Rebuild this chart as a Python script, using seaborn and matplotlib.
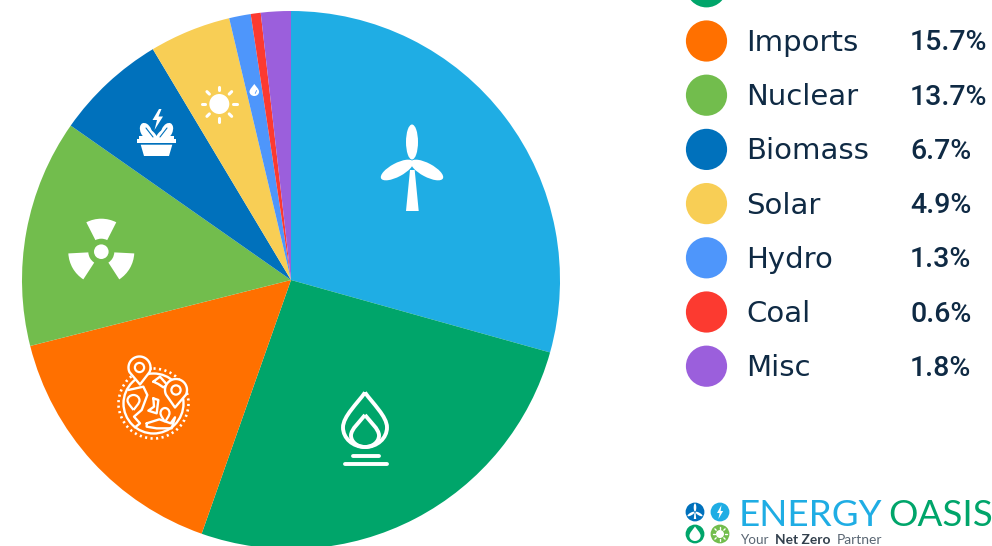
import matplotlib
matplotlib.use('Agg')
import matplotlib.pyplot as plt
from matplotlib.patches import Circle, Ellipse, PathPatch, Polygon, Rectangle, Wedge
from matplotlib.path import Path
import numpy as np
import pandas as pd
import seaborn as sns

sources = ['Wind', 'Gas', 'Imports', 'Nuclear', 'Biomass', 'Solar', 'Hydro', 'Coal', 'Misc']
shares = [29.4, 26.1, 15.7, 13.7, 6.7, 4.9, 1.3, 0.6, 1.8]
colors = ['#1fade4', '#00a56a', '#ff7000', '#72bd4d', '#0071bc',
          '#f8ce55', '#4e96fb', '#fc3a30', '#9b5fdc']

W, H = 992, 546
TEXT = '#0f2a44'
ORANGE = '#ff7000'
BLUE = '#0071bc'

sns.set_theme(style='white')
plt.rcParams['font.family'] = ['Lato', 'DejaVu Sans']

fig = plt.figure(figsize=(W / 100, H / 100), dpi=100, facecolor='white')

# pie, centre (291, 280) and radius 269 in pixels, runs a bit off the bottom
pie_ax = fig.add_axes([22 / W, (H - 549) / H, 538 / W, 538 / H])
pie_ax.pie(shares, colors=colors, startangle=90, counterclock=False,
           radius=1, wedgeprops={'linewidth': 0})
pie_ax.set_xlim(-1, 1)
pie_ax.set_ylim(-1, 1)

# overlay in image pixels for the legend, icons and logo
ov = fig.add_axes([0, 0, 1, 1])
ov.set_xlim(0, W)
ov.set_ylim(H, 0)
ov.axis('off')
ov.patch.set_alpha(0)

# legend rows
row_step = 54.2
row_first = 41 - 2 * row_step
legend = pd.DataFrame({'source': sources, 'share': shares})
legend['y'] = row_first + legend.index * row_step
legend['x'] = 706.5
sns.scatterplot(data=legend, x='x', y='y', hue='source', hue_order=sources,
                palette=colors, s=880, linewidth=0, legend=False, ax=ov)
ov.set_xlim(0, W)
ov.set_ylim(H, 0)
ov.set_xlabel('')
ov.set_ylabel('')
for row in legend.iloc[2:].itertuples():
    ov.text(746, row.y - 1, row.source, fontsize=21, color=TEXT, va='center_baseline',
            family='DejaVu Sans')
    ov.text(910, row.y - 1, f'{row.share}%', fontsize=20.5, color=TEXT, va='center_baseline',
            family='Roboto', fontweight='medium')


def drop(cx, top, bottom, hw):
    # teardrop outline
    h = bottom - top
    belly = bottom - h * 0.36
    verts = [(cx, top),
             (cx + hw * 0.35, top + h * 0.2), (cx + hw, belly - h * 0.2), (cx + hw, belly),
             (cx + hw, belly + h * 0.2), (cx + hw * 0.55, bottom), (cx, bottom),
             (cx - hw * 0.55, bottom), (cx - hw, belly + h * 0.2), (cx - hw, belly),
             (cx - hw, belly - h * 0.2), (cx - hw * 0.35, top + h * 0.2), (cx, top)]
    codes = [Path.MOVETO] + [Path.CURVE4] * 12
    return Path(verts, codes)


def white_line(xs, ys, lw=2.2, color='white'):
    ov.plot(xs, ys, color=color, lw=lw, solid_capstyle='round', solid_joinstyle='round')


def zoomed(points, ox, oy):
    pts = np.array(points, dtype=float) / 3 + [ox, oy]
    return pts[:, 0], pts[:, 1]


# wind turbine
ov.add_patch(Ellipse((412, 142), 12, 35, color='white', lw=0))
ov.add_patch(Ellipse((397, 170), 36, 13.5, angle=152, color='white', lw=0))
ov.add_patch(Ellipse((427, 170), 36, 13.5, angle=28, color='white', lw=0))
ov.add_patch(Polygon([(410, 170), (414.7, 170), (418.7, 211), (406, 211)], color='white', lw=0))

# gas flame
ov.add_patch(PathPatch(drop(365, 392.5, 447, 22), fc='none', ec='white', lw=2.8))
ov.add_patch(PathPatch(drop(365, 415, 447, 14), fc='none', ec='white', lw=2.8))
white_line([352.5, 379], [456, 456], lw=2.8)
white_line([345, 387], [464, 464], lw=2.8)

# radiation symbol for nuclear
rad = (101.3, 251.7)
ov.add_patch(Circle(rad, 7.3, color='white', lw=0))
for mid in [270, 30, 150]:
    ov.add_patch(Wedge(rad, 33, mid - 27, mid + 27, width=20, color='white', lw=0))

# globe with pins for imports
globe = (153.5, 403.5)
ov.add_patch(Circle(globe, 30, fc='none', ec='white', lw=1.7))
ov.add_patch(Circle(globe, 35, fc='none', ec='white', lw=1.9, ls=(0, (0.8, 1.3))))
shapes = [
    [(280, 515), (300, 500), (322, 525), (310, 532), (295, 522), (280, 515)],
    [(205, 540), (250, 530), (262, 555), (245, 600), (222, 620), (240, 640), (225, 652)],
    [(280, 565), (295, 570), (290, 610), (265, 602), (282, 590), (280, 565)],
    [(260, 640), (298, 628), (332, 640), (345, 622), (335, 655), (290, 655), (260, 650), (260, 640)],
]
for shape in shapes:
    xs, ys = zoomed(shape, 60, 210)
    white_line(xs, ys, lw=1.7)
for head, tip, r in [((139.5, 367.5), (140, 384.5), 11), ((176, 390), (175, 407.5), 11)]:
    t = np.deg2rad(np.linspace(155, 385, 40))
    outline = np.column_stack([head[0] + r * np.cos(t), head[1] + r * np.sin(t)])
    ov.add_patch(Polygon(np.vstack([outline, tip]), fc=ORANGE, ec='white', lw=1.7,
                         joinstyle='round', zorder=4))
    ov.add_patch(Circle(head, r * 0.42, fc='none', ec='white', lw=1.6, zorder=4.3))
for cx, top, bottom, hw in [(133.5, 395, 410, 6), (165, 408, 422, 4.5)]:
    ov.add_patch(PathPatch(drop(cx, bottom, top, hw), fc=ORANGE, ec='white', lw=1.6, zorder=3))

# biomass plant pot
ov.add_patch(Rectangle((137.3, 139.3), 38.4, 4, color='white', lw=0))
ov.add_patch(Polygon([(140.7, 144.7), (172.3, 144.7), (169, 156), (144, 156)], color='white', lw=0))
ov.add_patch(Ellipse((146, 131), 11, 17, angle=-25, color='white', lw=0))
ov.add_patch(Ellipse((167, 131), 11, 17, angle=25, color='white', lw=0))
ov.add_patch(Ellipse((152, 134), 5, 13, angle=-45, color='white', lw=0))
ov.add_patch(Ellipse((161, 134), 5, 13, angle=45, color='white', lw=0))
ov.add_patch(Rectangle((139, 136), 35, 3.3, color='white', lw=0))
white_line([146, 153], [128, 137], lw=0.8, color=BLUE)
white_line([167, 160], [128, 137], lw=0.8, color=BLUE)
ov.add_patch(Polygon([(159, 109), (152.5, 120), (157, 120), (154.5, 130), (163, 116.5), (158.5, 116.5), (161.5, 109)],
                     color='white', lw=0, zorder=4))

# sun
sun = np.array([219.3, 104.0])
ov.add_patch(Circle(sun, 10, color='white', lw=0))
for a in np.deg2rad(np.arange(0, 360, 45)):
    d = np.array([np.cos(a), np.sin(a)])
    p0, p1 = sun + 14 * d, sun + 17.5 * d
    white_line([p0[0], p1[0]], [p0[1], p1[1]], lw=2.2)

# hydro drop
ov.add_patch(PathPatch(drop(254.3, 84, 96, 4.8), fc='white', ec='none'))
white_line([256.6, 255.2], [90.5, 93.5], lw=0.6, color='#4e96fb')

# logo badges
badges = [((695, 512), BLUE), ((720, 512), '#1fade4'), ((695, 534), '#00a56a'), ((720, 534), '#72bd4d')]
for centre, col in badges:
    ov.add_patch(Circle(centre, 9.4, color=col, lw=0))
ov.add_patch(Ellipse((695, 507.5), 2.6, 8, color='white', lw=0))
ov.add_patch(Ellipse((691, 514), 8, 2.6, angle=150, color='white', lw=0))
ov.add_patch(Ellipse((699, 514), 8, 2.6, angle=30, color='white', lw=0))
ov.add_patch(Polygon([(694.4, 513), (695.6, 513), (696.2, 519), (693.8, 519)], color='white', lw=0))
ov.add_patch(Polygon([(721.5, 505), (717, 513), (719.6, 513), (718.4, 519), (723.2, 511), (720.6, 511)], color='white', lw=0))
ov.add_patch(PathPatch(drop(695, 526.5, 541, 5.6), fc='white', ec='none'))
ov.add_patch(Circle((720, 534), 4, color='white', lw=0))
for a in np.deg2rad(np.arange(0, 360, 45)):
    white_line([720 + 5.4 * np.cos(a), 720 + 7.2 * np.cos(a)],
               [534 + 5.4 * np.sin(a), 534 + 7.2 * np.sin(a)], lw=1)

# logo text
ov.text(739, 526, 'ENERGY', fontsize=26.5, color='#1fade4', va='baseline')
ov.text(888, 526, 'OASIS', fontsize=26.5, color='#00a56a', va='baseline')
ov.text(740, 543.5, 'Your', fontsize=9.7, color='#5a6673', va='baseline')
ov.text(775, 543.5, 'Net Zero', fontsize=9.9, color='#33404d', fontweight='bold', va='baseline')
ov.text(837, 543.5, 'Partner', fontsize=10, color='#5a6673', va='baseline')

fig.savefig('out.png', dpi=100, facecolor='white')
